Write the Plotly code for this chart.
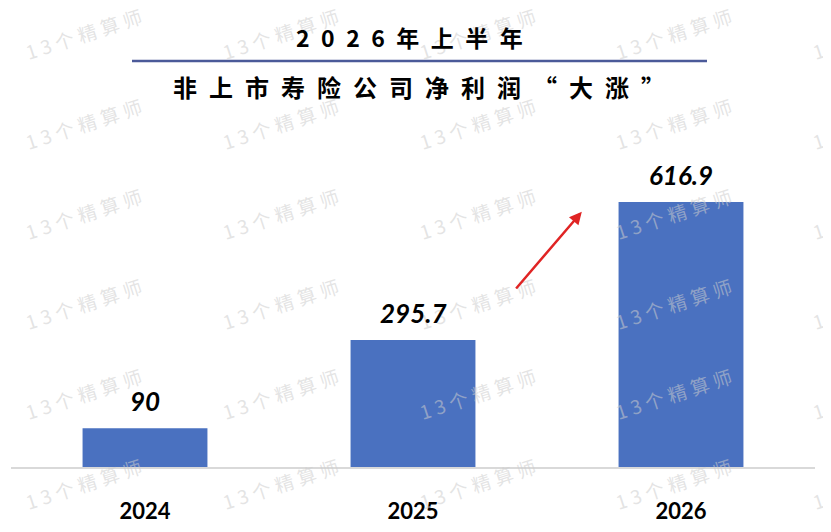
import plotly.graph_objects as go

# data
years = ["2024", "2025", "2026"]
profit = [90, 295.7, 616.9]

title_top = "2026年上半年"
title_main = "非上市寿险公司净利润“大涨”"
watermark = "13个精算师"
wm_cols = [83, 280, 477, 673, 870]
wm_rows = [33, 123, 213, 303, 393, 483]

W, H = 831, 532
OFF = 8  # page body margin, positions below are in screen pixels
ML, MR = 11 - OFF, W - 815 + OFF
MT, MB = 100 - OFF, H - 467 + OFF
pw, ph = W - ML - MR, H - MT - MB

def px(x):
    return (x - OFF - ML) / pw

def py(y):
    return (H - MB - (y - OFF)) / ph

cjk = "Noto Sans CJK SC"
num = "Lato"

fig = go.Figure()
fig.add_trace(go.Bar(x=years, y=profit, marker_color="#4A71C0",
                     marker_line_width=0, hoverinfo="skip"))

annotations = []

# watermark grid
for r in wm_rows:
    for c in wm_cols:
        annotations.append(dict(
            text="\u2005".join(watermark), x=px(c), y=py(r), xref="paper", yref="paper",
            xanchor="center", yanchor="middle",
            showarrow=False, textangle=-18,
            font=dict(family=cjk, size=19, color="rgba(205,205,205,0.55)")))

# value labels (category axis -> serial index)
for i, v in enumerate(profit):
    annotations.append(dict(
        x=i, y=v, xref="x", yref="y", text=f"{v:g}", showarrow=False,
        xanchor="center", yanchor="bottom", yshift=9,
        font=dict(family=num, size=26, color="black", weight="bold", style="italic")))

# titles
annotations.append(dict(text="\u2002".join(title_top), x=px(409), y=py(37),
                        xref="paper", yref="paper", showarrow=False,
                        xanchor="center", yanchor="middle",
                        font=dict(family=cjk, size=23, color="black", weight="bold")))
annotations.append(dict(text="\u2002".join(title_main), x=px(419), y=py(86),
                        xref="paper", yref="paper", showarrow=False,
                        xanchor="center", yanchor="middle",
                        font=dict(family=cjk, size=24, color="black", weight="bold")))

# red arrow
annotations.append(dict(x=1.63, y=594, ax=1.38, ay=412, xref="x", yref="y",
                        axref="x", ayref="y", text="", showarrow=True,
                        arrowhead=2, arrowsize=1, arrowwidth=2.5, arrowcolor="#E02424"))

fig.update_layout(
    width=W, height=H,
    margin=dict(l=ML, r=MR, t=MT, b=MB),
    plot_bgcolor="white", paper_bgcolor="white",
    bargap=0.534, showlegend=False,
    annotations=annotations,
    shapes=[dict(type="line", xref="paper", yref="paper",
                 x0=px(132), x1=px(707), y0=py(61), y1=py(61),
                 line=dict(color="#4B5A99", width=2.5))],
)
fig.update_xaxes(type="category", range=[-0.5, 2.5], showline=True,
                 linecolor="#D9D9D9", linewidth=2,
                 ticks="", ticklabelstandoff=24,
                 tickfont=dict(family=num, size=22, color="black", weight="bold"))
fig.update_yaxes(range=[0, 854], visible=False, showgrid=False, zeroline=False)

fig.write_html("out.html")
